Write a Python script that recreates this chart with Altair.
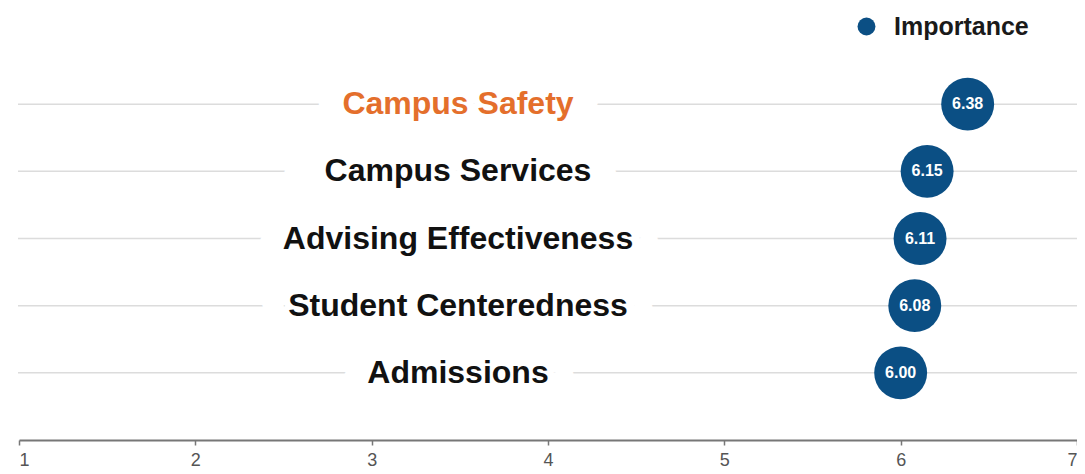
import altair as alt
import pandas as pd

categories = ["Campus Safety", "Campus Services", "Advising Effectiveness", "Student Centeredness", "Admissions"]
importance = [6.38, 6.15, 6.11, 6.08, 6.00]
highlight = [True, False, False, False, False]
series_name = "Importance"
x_ticks = [1, 2, 3, 4, 5, 6, 7]

df = pd.DataFrame({
    "category": categories,
    "value": importance,
    "highlight": highlight,
    "series": [series_name] * len(categories),
    "label": [f"{v:.2f}" for v in importance],
})

W, H = 1058, 403
FONT = "Liberation Sans"

y = alt.Y("category:N", sort=categories, axis=None,
          scale=alt.Scale(type="point", padding=1.065))
xscale = alt.Scale(domain=[1, 7], nice=False, zero=False)

base = alt.Chart(df)

grid = base.mark_rule(color="#dcdcdc", strokeWidth=1.5).encode(
    y=y, x=alt.value(-1), x2=alt.value(W + 10)
)

halo = base.mark_text(font=FONT, fontSize=32, fontWeight="bold", stroke="white",
                      strokeWidth=50, color="white", align="center", baseline="middle").encode(
    y=y, x=alt.value(439), text="category:N"
)

labels = base.mark_text(font=FONT, fontSize=32, fontWeight="bold",
                        align="center", baseline="middle").encode(
    y=y, x=alt.value(439), text="category:N",
    color=alt.condition("datum.highlight", alt.value("#e46f2c"), alt.value("#111111"))
)

points = base.mark_point(filled=True, opacity=1, size=2800, shape="circle").encode(
    x=alt.X("value:Q", scale=xscale,
            axis=alt.Axis(values=x_ticks, title=None, grid=False, domainColor="#777777",
                          domainWidth=2, tickColor="#777777", tickSize=5, tickWidth=1.5,
                          labelColor="#555555", labelFont=FONT, labelFontSize=18,
                          labelPadding=6, labelBaseline="top", format="d")),
    y=y,
    color=alt.Color("series:N", scale=alt.Scale(range=["#0b4f84"]),
                    legend=alt.Legend(title=None, orient="none", legendX=835, legendY=-23,
                                      symbolSize=320, symbolType="circle",
                                      labelFont=FONT, labelFontSize=25, labelFontWeight="bold",
                                      labelColor="#1a1a1a", labelOffset=15)),
)

vals = base.mark_text(font=FONT, fontSize=16, fontWeight="bold", color="white",
                      align="center", baseline="middle").encode(
    x=alt.X("value:Q", scale=xscale), y=y, text="label:N"
)

chart = alt.layer(grid, halo, labels, points, vals).properties(
    width=W, height=H, autosize=alt.AutoSizeParams(type="none"),
    padding={"left": 11, "top": 29, "right": 0, "bottom": 30}
).configure_view(stroke=None, strokeWidth=0)

chart.save("out.html", embed_options={"renderer": "svg", "actions": False})
